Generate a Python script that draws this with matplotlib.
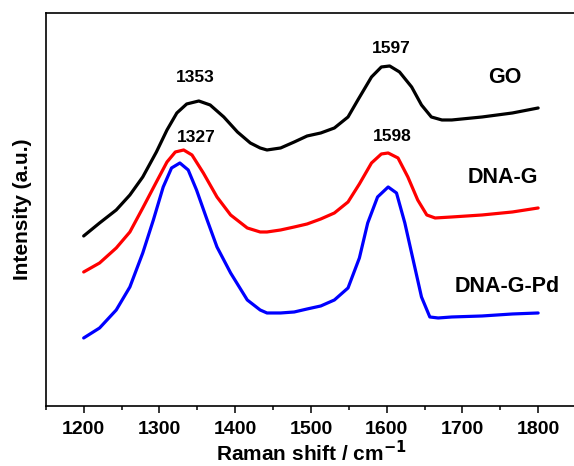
import matplotlib
matplotlib.use("Agg")
import matplotlib.pyplot as plt
from matplotlib.ticker import MultipleLocator

plt.rcParams['font.family'] = ['Liberation Sans', 'DejaVu Sans']

# traced Raman spectra (arbitrary intensity, curves already offset)
go_x = [1200, 1221, 1243, 1261, 1278, 1296, 1310, 1323, 1336, 1352, 1367, 1385,
        1403, 1420, 1433, 1442, 1460, 1478, 1495, 1513, 1531, 1549, 1562, 1580,
        1593, 1604, 1617, 1633, 1646, 1659, 1673, 1686, 1726, 1766, 1800]
go_y = [170, 183, 196, 211, 229, 254, 276, 293, 302, 305, 301, 289,
        274, 263, 258, 256, 258, 264, 270, 273, 278, 289, 306, 329,
        339, 340, 334, 319, 301, 289, 286, 286, 289, 293, 298]

dnag_x = [1200, 1221, 1243, 1261, 1278, 1296, 1310, 1321, 1332, 1343, 1358, 1376,
          1394, 1416, 1433, 1442, 1460, 1478, 1495, 1513, 1531, 1549, 1564, 1580,
          1593, 1602, 1615, 1628, 1641, 1653, 1664, 1686, 1726, 1766, 1800]
dnag_y = [134, 143, 158, 174, 198, 224, 244, 254, 256, 251, 233, 209,
          191, 178, 174, 174, 176, 179, 182, 187, 193, 204, 222, 243,
          252, 253, 248, 229, 206, 191, 188, 189, 191, 194, 198]

dnagpd_x = [1200, 1221, 1243, 1261, 1278, 1292, 1305, 1316, 1327, 1338, 1349, 1363,
            1376, 1394, 1416, 1433, 1442, 1460, 1478, 1495, 1513, 1531, 1549, 1564,
            1575, 1588, 1602, 1613, 1624, 1635, 1646, 1657, 1668, 1686, 1726, 1766,
            1800]
dnagpd_y = [68, 78, 96, 119, 153, 186, 219, 238, 243, 236, 216, 186,
            159, 133, 106, 96, 93, 93, 94, 97, 100, 106, 118, 148,
            183, 209, 219, 213, 183, 146, 109, 89, 88, 89, 90, 92,
            93]

peak_labels = ["1353", "1327", "1597", "1598"]
peak_x = [1347, 1349, 1606, 1608]
peak_y = [328, 268, 357, 269]

names = ["GO", "DNA-G", "DNA-G-Pd"]
name_x = [1756, 1754, 1759]
name_y = [328, 228, 119]

fig = plt.figure(figsize=(5.74, 4.66), dpi=100)
ax = fig.add_axes([0.0798, 0.1288, 0.9237, 0.8427])

for xs, ys, c in [(go_x, go_y, 'black'), (dnag_x, dnag_y, '#ff0000'),
                  (dnagpd_x, dnagpd_y, '#0000ff')]:
    ax.plot(xs, ys, color=c, linewidth=2.3, solid_joinstyle='round',
            solid_capstyle='round')

for t, x, y in zip(peak_labels, peak_x, peak_y):
    ax.text(x, y, t, ha='center', va='center', fontsize=12.5, fontweight='bold')
for t, x, y in zip(names, name_x, name_y):
    ax.text(x, y, t, ha='center', va='center', fontsize=15.5, fontweight='bold')

ax.set_xlim(1150, 1850)
ax.set_ylim(0, 392.7)
ax.xaxis.set_major_locator(MultipleLocator(100))
ax.xaxis.set_minor_locator(MultipleLocator(50))
ax.set_yticks([])
ax.tick_params(axis='x', which='major', direction='out', length=5, width=1.1,
               labelsize=14, pad=6)
ax.tick_params(axis='x', which='minor', direction='out', length=3, width=1.1)
for lbl in ax.get_xticklabels():
    lbl.set_fontweight('bold')
for sp in ax.spines.values():
    sp.set_linewidth(1.2)

ax.set_xlabel("Raman shift / cm$^{\\mathbf{-1}}$", fontsize=15, fontweight='bold',
              labelpad=1)
ax.set_ylabel("Intensity (a.u.)", fontsize=15, fontweight='bold', labelpad=10)

fig.savefig("out.png", dpi=100)
